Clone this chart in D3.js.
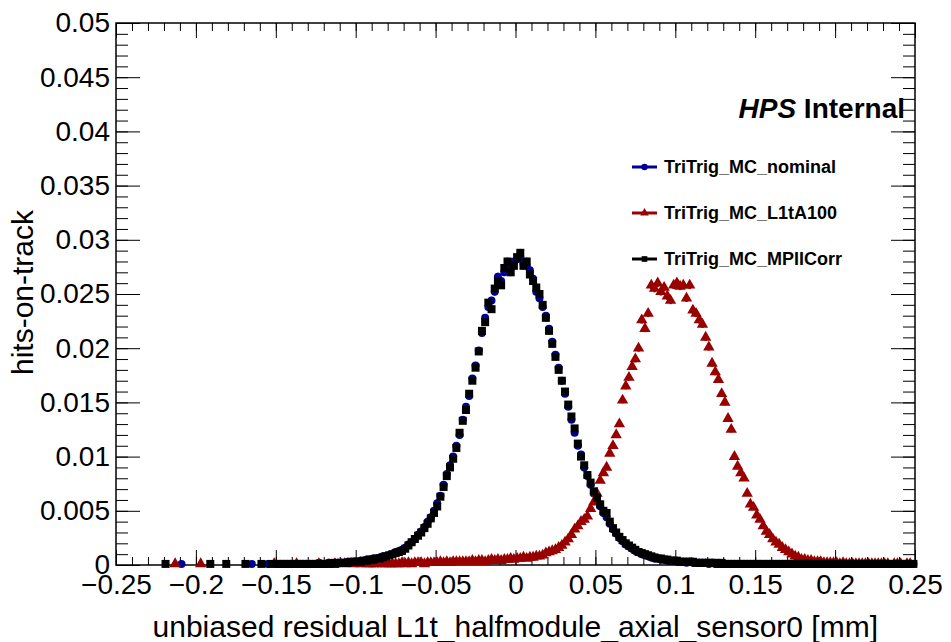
<!DOCTYPE html>
<html>
<head>
<meta charset="utf-8">
<script src="https://cdn.jsdelivr.net/npm/d3@7"></script>
<style>
body { margin: 0; background: #fff; }
svg { display: block; font-family: "Liberation Sans", Arial, Helvetica, sans-serif; }
</style>
</head>
<body>
<svg id="chart"></svg>
<script>
// histogram binning: centre of first stored bin, bin width (mm)
var firstBinCentre = -0.229;
var binWidth = 0.002;
var totalEntries = 400000; // used for the sqrt(N) error bars

var xTicks = [-0.25, -0.2, -0.15, -0.1, -0.05, 0, 0.05, 0.1, 0.15, 0.2, 0.25];
var xTickLabels = ["\u22120.25", "\u22120.2", "\u22120.15", "\u22120.1", "\u22120.05", "0", "0.05", "0.1", "0.15", "0.2", "0.25"];
var yTicks = [0, 0.005, 0.01, 0.015, 0.02, 0.025, 0.03, 0.035, 0.04, 0.045, 0.05];
var yTickLabels = ["0", "0.005", "0.01", "0.015", "0.02", "0.025", "0.03", "0.035", "0.04", "0.045", "0.05"];

var seriesNames = ["TriTrig_MC_nominal", "TriTrig_MC_L1tA100", "TriTrig_MC_MPIICorr"];
var seriesColors = ["#000099", "#990000", "#000000"];

// bin contents in units of 1e-4, ten bins per line, starting at -0.229
var nominalValues = [
	0,0,0,0,0,0,0,0,0,0,
	1,0,0,0,0,0,0,0,0,0,
	0,0,0,0,0,0,0,0,0,0,
	0,0,1,0,0,0,0,1,0,0,
	1,0,1,1,1,1,1,1,1,1,
	1,1,1,2,1,1,2,1,2,2,
	2,2,3,3,3,3,4,4,5,5,
	6,6,7,8,8,9,10,12,13,14,
	16,19,21,24,28,31,35,40,44,50,
	57,64,74,84,92,100,110,120,134,146,
	156,172,184,198,214,228,238,244,252,266,
	262,270,276,274,280,282,284,278,276,272,
	264,252,246,238,230,218,206,194,182,170,
	158,146,134,122,110,102,90,82,74,66,
	60,54,48,44,38,33,29,25,22,19,
	17,15,13,12,10,9,8,7,6,6,
	5,5,4,4,4,3,3,3,2,3,
	2,2,2,2,2,1,2,1,1,1,
	1,1,1,1,1,1,1,1,1,1,
	1,1,1,1,1,1,1,1,1,1,
	1,1,1,1,0,1,1,1,1,1,
	1,1,1,1,1,1,1,1,0,1,
	1,1,1,0,1,1,1,1,1,1,
	1,1,1,1,1,0,1,1,1,1
];

var l1tA100Values = [
	0,0,0,0,0,0,0,0,1,0,
	0,0,0,0,0,0,1,0,0,0,
	0,0,0,0,0,0,0,0,0,0,
	0,0,0,0,0,0,0,0,0,1,
	0,0,0,0,0,0,1,0,0,0,
	0,0,0,1,0,0,0,0,1,0,
	0,1,0,0,1,0,1,0,1,1,
	1,1,0,1,1,1,1,1,1,2,
	1,2,1,2,2,2,1,2,2,2,
	2,3,2,3,2,3,3,3,3,3,
	3,4,3,4,4,3,4,5,4,5,
	4,5,5,6,5,6,6,7,6,7,
	7,8,8,9,11,12,13,14,16,18,
	21,24,28,33,36,40,42,45,52,58,
	66,78,85,90,103,110,120,130,152,165,
	173,183,190,200,226,218,232,258,255,260,
	252,256,248,244,258,260,257,258,246,258,
	235,232,226,222,210,201,186,178,171,158,
	150,135,125,100,91,85,80,66,56,53,
	46,42,36,31,28,24,21,19,16,14,
	12,10,8,7,5,5,4,4,3,3,
	3,2,2,2,2,2,1,2,1,1,
	1,1,1,1,1,1,1,1,1,1,
	1,1,0,1,1,1,0,1,1,0
];

var mpiiCorrValues = [
	0,0,0,0,0,1,0,0,0,0,
	0,0,0,0,0,0,0,0,0,1,
	0,0,0,0,1,0,0,0,0,0,
	1,0,0,0,0,1,0,0,1,0,
	1,1,1,1,1,1,1,1,1,1,
	1,1,1,1,1,1,1,2,1,2,
	2,2,2,3,3,3,3,4,4,5,
	5,6,6,7,8,9,10,11,12,13,
	15,18,21,24,27,30,34,38,43,48,
	54,63,72,82,90,98,108,122,133,143,
	158,170,182,197,216,224,242,236,255,262,
	258,274,280,270,276,284,288,276,280,268,
	262,256,250,240,228,216,204,192,180,170,
	160,148,137,126,112,100,92,83,76,68,
	62,56,50,48,40,34,30,26,23,20,
	18,16,14,12,11,10,9,8,7,6,
	6,5,5,4,4,4,3,3,3,3,
	3,2,2,2,2,2,2,2,1,2,
	1,1,1,1,1,1,1,1,1,1,
	1,1,1,1,1,1,1,1,1,1,
	1,1,1,1,1,1,1,1,1,1,
	1,1,1,1,1,1,1,1,1,1,
	1,1,1,1,1,1,1,1,1,1,
	1,1,1,1,1,1,1,1,1,1
];

var valueUnit = 1e-4;

function toPoints(values)
{
	var pts = [];
	for (var i = 0; i < values.length; i++)
	{
		if (values[i] <= 0) continue;
		var v = values[i] * valueUnit;
		pts.push({x: firstBinCentre + i * binWidth, y: v, err: Math.sqrt(v / totalEntries)});
	}
	return pts;
}

function render()
{
	var width = 951, height = 642;
	var margin = {top: 23, right: 36, bottom: 77, left: 116};

	var svg = d3.select('#chart')
		.attr('width', width)
		.attr('height', height);

	var xScale = d3.scaleLinear().domain([-0.25, 0.25]).range([margin.left, width - margin.right]);
	var yScale = d3.scaleLinear().domain([0, 0.05]).range([height - margin.bottom, margin.top]);

	var x0 = xScale.range()[0], x1 = xScale.range()[1];
	var y0 = yScale.range()[0], y1 = yScale.range()[1];

	var xMinor = d3.range(0, 51).map(function(i){ return -0.25 + i * 0.01; });
	var yMinor = d3.range(0, 51).map(function(i){ return i * 0.001; });

	function styleAxis(g)
	{
		g.select('.domain').remove();
		g.selectAll('line').attr('stroke', '#000').attr('stroke-width', 1);
		g.selectAll('text').attr('fill', '#000').style('font-size', '28px');
	}

	// bottom axis
	svg.append('g').attr('transform', 'translate(0,' + y0 + ')')
		.call(d3.axisBottom(xScale).tickValues(xMinor).tickSize(-8).tickFormat(''))
		.call(styleAxis);
	svg.append('g').attr('transform', 'translate(0,' + y0 + ')')
		.call(d3.axisBottom(xScale).tickValues(xTicks).tickSize(-15).tickPadding(9)
			.tickFormat(function(d, i){ return xTickLabels[i]; }))
		.call(styleAxis);
	// top axis (ticks only)
	svg.append('g').attr('transform', 'translate(0,' + y1 + ')')
		.call(d3.axisTop(xScale).tickValues(xMinor).tickSize(-8).tickFormat(''))
		.call(styleAxis);
	svg.append('g').attr('transform', 'translate(0,' + y1 + ')')
		.call(d3.axisTop(xScale).tickValues(xTicks).tickSize(-15).tickFormat(''))
		.call(styleAxis);
	// left axis
	svg.append('g').attr('transform', 'translate(' + x0 + ',0)')
		.call(d3.axisLeft(yScale).tickValues(yMinor).tickSize(-12).tickFormat(''))
		.call(styleAxis);
	svg.append('g').attr('transform', 'translate(' + x0 + ',0)')
		.call(d3.axisLeft(yScale).tickValues(yTicks).tickSize(-24).tickPadding(6)
			.tickFormat(function(d, i){ return yTickLabels[i]; }))
		.call(styleAxis);
	// right axis (ticks only)
	svg.append('g').attr('transform', 'translate(' + x1 + ',0)')
		.call(d3.axisRight(yScale).tickValues(yMinor).tickSize(-12).tickFormat(''))
		.call(styleAxis);
	svg.append('g').attr('transform', 'translate(' + x1 + ',0)')
		.call(d3.axisRight(yScale).tickValues(yTicks).tickSize(-24).tickFormat(''))
		.call(styleAxis);

	// frame
	svg.append('rect')
		.attr('x', x0).attr('y', y1)
		.attr('width', x1 - x0).attr('height', y0 - y1)
		.attr('fill', 'none').attr('stroke', '#000').attr('stroke-width', 1.5);

	// axis titles
	svg.append('text')
		.attr('x', 878).attr('y', 637)
		.attr('text-anchor', 'end')
		.style('font-size', '30px')
		.text('unbiased residual L1t_halfmodule_axial_sensor0 [mm]');
	svg.append('text')
		.attr('transform', 'translate(33,210) rotate(-90)')
		.attr('text-anchor', 'end')
		.style('font-size', '30px')
		.text('hits-on-track');

	// series
	var symbols = [d3.symbolCircle, d3.symbolTriangle, d3.symbolSquare];
	var symbolSizes = [50, 56, 64];
	var errWidths = [1.5, 2.5, 1.5];
	var allValues = [nominalValues, l1tA100Values, mpiiCorrValues];

	for (var s = 0; s < allValues.length; s++)
	{
		var pts = toPoints(allValues[s]);
		var grp = svg.append('g').attr('class', 'series-' + s);
		grp.selectAll('line.err').data(pts).enter()
			.append('line')
			.attr('class', 'err')
			.attr('x1', function(d){ return xScale(d.x); })
			.attr('x2', function(d){ return xScale(d.x); })
			.attr('y1', function(d){ return yScale(d.y - d.err) + 1; })
			.attr('y2', function(d){ return yScale(d.y + d.err) - 1; })
			.attr('stroke', seriesColors[s])
			.attr('stroke-width', errWidths[s]);
		grp.selectAll('path.marker').data(pts).enter()
			.append('path')
			.attr('class', 'marker')
			.attr('d', d3.symbol().type(symbols[s]).size(symbolSizes[s]))
			.attr('transform', function(d){ return 'translate(' + xScale(d.x) + ',' + yScale(d.y) + ')'; })
			.attr('fill', seriesColors[s]);
	}

	// legend
	var legendY = [167, 213, 259];
	var legend = svg.append('g').attr('class', 'legend');
	for (var k = 0; k < seriesNames.length; k++)
	{
		legend.append('line')
			.attr('x1', 632).attr('x2', 657)
			.attr('y1', legendY[k]).attr('y2', legendY[k])
			.attr('stroke', seriesColors[k]).attr('stroke-width', 3);
		legend.append('path')
			.attr('d', d3.symbol().type(symbols[k]).size(32))
			.attr('transform', 'translate(644.5,' + legendY[k] + ')')
			.attr('fill', seriesColors[k]);
		legend.append('text')
			.attr('x', 664).attr('y', legendY[k])
			.attr('dy', '0.35em')
			.style('font-size', '18px')
			.style('font-weight', 'bold')
			.text(seriesNames[k]);
	}

	// label
	var label = svg.append('text')
		.attr('x', 905).attr('y', 118)
		.attr('text-anchor', 'end')
		.style('font-size', '28px')
		.style('font-weight', 'bold');
	label.append('tspan').style('font-style', 'italic').text('HPS');
	label.append('tspan').text(' Internal');
}

render();
</script>
</body>
</html>
